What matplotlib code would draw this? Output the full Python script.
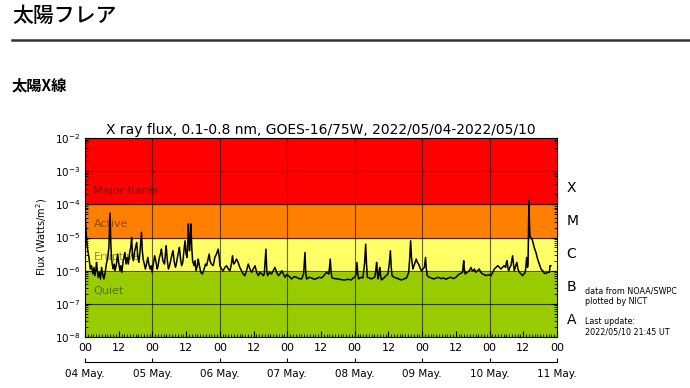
import matplotlib.pyplot as plt
from matplotlib.ticker import MultipleLocator, LogLocator, NullFormatter

# datos: (horas desde 2022/05/04 00UT, log10 del flujo W/m2)
dia1 = [(0.0, -4.28), (0.3, -4.7), (0.6, -5.1), (1.0, -5.4), (1.4, -5.6), (1.9, -5.95),
        (2.3, -5.85), (2.8, -6.1), (3.2, -5.9), (3.5, -6.15), (3.9, -5.95), (4.1, -5.75),
        (4.4, -6.0), (4.7, -6.2), (5.1, -6.05), (5.5, -6.25), (5.9, -5.9), (6.3, -6.1),
        (6.7, -6.25), (7.1, -6.1), (7.6, -5.8), (8.1, -5.6), (8.5, -5.3), (8.9, -4.26),
        (9.2, -5.2), (9.5, -5.7), (10.0, -5.95), (10.4, -5.8), (10.7, -6.0), (11.2, -5.8),
        (11.6, -5.5), (11.9, -5.7), (12.4, -6.0), (12.8, -5.85), (13.1, -6.05), (13.6, -5.7),
        (14.2, -5.45), (14.6, -5.8), (15.0, -5.6), (15.4, -5.8), (15.9, -5.45), (16.3, -5.3),
        (16.6, -5.0), (16.9, -5.55), (17.2, -5.7), (17.7, -5.4), (18.1, -5.25), (18.4, -5.15),
        (18.8, -5.6), (19.2, -5.75), (19.6, -5.4), (20.1, -4.84), (20.4, -5.4), (20.7, -5.65),
        (21.1, -5.8), (21.5, -5.95), (22.0, -5.75), (22.4, -5.6), (22.7, -5.8), (23.2, -5.95),
        (23.6, -5.85), (23.9, -6.05)]
dia2 = [(24.3, -5.8), (24.8, -5.55), (25.3, -5.75), (25.7, -5.95), (26.0, -5.85), (26.5, -5.6),
        (27.0, -5.45), (27.2, -5.35), (27.7, -5.7), (28.3, -5.8), (28.6, -5.5), (28.9, -5.25),
        (29.3, -5.7), (29.7, -5.95), (30.1, -5.85), (30.6, -5.65), (31.0, -5.5), (31.3, -5.4),
        (31.8, -5.75), (32.2, -5.9), (32.5, -5.8), (33.0, -5.55), (33.4, -5.4), (33.6, -5.3),
        (34.0, -5.65), (34.4, -5.85), (34.8, -5.75), (35.2, -5.4), (35.6, -5.1), (35.9, -5.45),
        (36.3, -5.6), (36.6, -5.1), (36.8, -4.59), (37.0, -5.1), (37.2, -5.4), (37.5, -5.0),
        (37.7, -4.59), (38.0, -5.3), (38.3, -5.7), (38.8, -5.85), (39.2, -5.7), (39.5, -6.0),
        (40.0, -5.85), (40.3, -5.65), (40.6, -5.8), (41.2, -6.05), (41.8, -6.1), (42.4, -5.95),
        (42.9, -5.8), (43.3, -5.85), (43.8, -5.65), (44.2, -5.5), (44.5, -5.7), (45.0, -5.8),
        (45.6, -5.85), (46.0, -5.7), (46.2, -5.6), (46.8, -5.5), (47.2, -5.4), (47.4, -5.35),
        (47.8, -5.6), (48.0, -5.85)]
dia3 = [(48.6, -5.95), (49.2, -6.0), (49.8, -5.9), (50.4, -5.85), (51.0, -5.95), (51.6, -6.0),
        (52.1, -5.8), (52.5, -5.55), (52.9, -5.8), (53.4, -5.75), (53.9, -5.65), (54.5, -5.75),
        (55.1, -5.9), (55.7, -6.0), (56.3, -6.1), (56.9, -6.15), (57.5, -6.0), (58.1, -5.8),
        (58.7, -5.95), (59.3, -6.05), (59.9, -5.95), (60.5, -5.85), (61.1, -6.05), (61.7, -6.15),
        (62.3, -6.05), (62.9, -6.1), (63.5, -6.15), (63.8, -6.1), (64.1, -5.7), (64.4, -5.35),
        (64.7, -6.0), (65.0, -6.15), (65.7, -6.05), (66.4, -6.1), (67.0, -6.0), (67.6, -5.9),
        (68.2, -6.05), (68.8, -6.15), (69.4, -6.1), (70.0, -6.0), (70.6, -6.1), (71.2, -6.2),
        (71.8, -6.12), (72.4, -6.15)]
dia4 = [(73.0, -6.2), (73.5, -6.25), (74.4, -6.18), (75.3, -6.2), (76.2, -6.24), (77.1, -6.25),
        (77.8, -6.1), (78.3, -5.45), (78.6, -6.1), (78.9, -6.25), (79.8, -6.2), (80.7, -6.22),
        (81.5, -6.26), (82.4, -6.24), (83.3, -6.2), (84.2, -6.22), (85.0, -6.15), (85.9, -6.05),
        (86.8, -6.1), (87.3, -5.65), (87.6, -6.05), (87.9, -6.22), (89.0, -6.24), (90.0, -6.25),
        (91.2, -6.27), (92.4, -6.28), (93.6, -6.26), (94.8, -6.28), (95.4, -6.22), (96.0, -6.2)]
dia5 = [(96.5, -6.1), (96.8, -5.75), (97.1, -6.1), (97.4, -6.25), (98.2, -6.2), (98.9, -6.22),
        (99.5, -5.8), (99.9, -5.2), (100.2, -5.8), (100.5, -6.2), (101.2, -6.22), (101.9, -6.25),
        (102.5, -6.22), (103.1, -6.2), (103.5, -6.0), (103.8, -5.75), (104.1, -6.1), (104.3, -6.25),
        (104.6, -6.1), (104.9, -5.9), (105.2, -6.15), (105.5, -6.28), (106.0, -6.25), (106.6, -6.2),
        (107.2, -6.15), (107.8, -6.1), (108.3, -5.8), (108.7, -5.4), (109.0, -5.9), (109.3, -6.15),
        (110.0, -6.2), (110.8, -6.22), (111.7, -6.25), (112.6, -6.28), (113.5, -6.25), (114.4, -6.22),
        (114.8, -6.15), (115.2, -6.05), (115.6, -5.6), (115.9, -5.1), (116.2, -5.6), (116.7, -5.95),
        (117.3, -5.8), (117.9, -5.65), (118.3, -5.75), (118.7, -5.8), (119.2, -5.9), (119.7, -6.0),
        (120.3, -5.95)]
dia6 = [(120.8, -5.9), (121.2, -5.6), (121.5, -5.95), (121.8, -6.15), (122.5, -6.2), (123.3, -6.22),
        (124.1, -6.25), (125.0, -6.22), (125.8, -6.2), (126.7, -6.24), (127.6, -6.22), (128.5, -6.26),
        (129.3, -6.22), (130.2, -6.2), (131.1, -6.24), (132.0, -6.2), (132.6, -6.15), (133.2, -6.1),
        (133.8, -6.08), (134.4, -6.05), (134.6, -5.85), (134.8, -5.7), (135.0, -5.95), (135.3, -6.1),
        (136.0, -6.05), (136.8, -6.0), (137.1, -5.95), (137.4, -5.9), (137.8, -6.0), (138.2, -6.0),
        (138.6, -5.95), (139.1, -6.05), (139.7, -6.0), (140.3, -5.95), (140.9, -6.05), (141.5, -6.1),
        (142.1, -6.12), (142.7, -6.15), (143.6, -6.12), (144.5, -6.15)]
dia7 = [(145.1, -6.05), (145.7, -5.95), (146.3, -5.9), (146.9, -5.85), (147.5, -5.9), (148.0, -5.95),
        (148.6, -5.9), (149.2, -5.85), (149.7, -5.9), (150.0, -5.75), (150.2, -5.7), (150.5, -5.9),
        (150.8, -6.0), (151.2, -5.9), (151.6, -5.85), (151.9, -5.7), (152.2, -5.55), (152.5, -5.8),
        (152.8, -6.0), (153.3, -5.85), (153.7, -5.75), (154.1, -5.95), (154.6, -6.05), (155.2, -6.1),
        (155.8, -6.15), (156.2, -6.1), (156.7, -6.05), (157.0, -5.8), (157.2, -5.6), (157.5, -5.9),
        (157.7, -5.8), (158.0, -3.88), (158.2, -4.6), (158.4, -4.99), (158.8, -5.0), (159.3, -5.1),
        (159.9, -5.3), (160.5, -5.45), (161.1, -5.65), (161.7, -5.8), (162.3, -5.95), (162.9, -6.0),
        (163.5, -6.08), (164.1, -6.08), (164.7, -6.05), (165.3, -6.05), (165.5, -5.85), (165.8, -5.85)]

datos = dia1 + dia2 + dia3 + dia4 + dia5 + dia6 + dia7
horas = [p[0] for p in datos]
flujo = [10 ** p[1] for p in datos]

dias = ["04 May.", "05 May.", "06 May.", "07 May.", "08 May.", "09 May.", "10 May.", "11 May."]
limites = [1e-8, 1e-6, 1e-5, 1e-4, 1e-2]
colores = ["#99cc00", "#ffff66", "#ff8000", "#ff0000"]
nombres = ["Quiet", "Eruptive", "Active", "Major flares"]
nombres_y = [10 ** -6.6, 10 ** -5.6, 10 ** -4.6, 10 ** -3.6]
clases = ["A", "B", "C", "M", "X"]
clases_y = [10 ** -7.5, 10 ** -6.5, 10 ** -5.5, 10 ** -4.5, 10 ** -3.5]

fig = plt.figure(figsize=(6.9, 3.88), dpi=100)

# encabezado de la pagina
cjk = ["Noto Sans CJK JP", "DejaVu Sans"]
fig.text(12 / 690, 1 - 16 / 388, "太陽フレア", family=cjk, fontsize=15, weight="medium",
         va="center", ha="left")
fig.add_artist(plt.Line2D([12 / 690, 1.0], [1 - 40 / 388, 1 - 40 / 388],
                          color="#333333", lw=1.8, transform=fig.transFigure))
fig.text(12 / 690, 1 - 85 / 388, "太陽X線", family=cjk, fontsize=11, weight="bold",
         va="center", ha="left")

ax = fig.add_axes([85 / 690, 51 / 388, 472 / 690, 199 / 388])
ax.set_yscale("log")
ax.set_ylim(1e-8, 1e-2)
ax.set_xlim(0, 168)

for i in range(len(colores)):
    ax.axhspan(limites[i], limites[i + 1], color=colores[i], zorder=0)
for i in range(len(nombres)):
    ax.text(3, nombres_y[i], nombres[i], fontsize=8, color="black", alpha=0.45,
            va="center", ha="left")

ax.grid(True, which="major", axis="y", color="black", lw=0.8, alpha=0.7)
for d in range(1, 7):
    ax.axvline(d * 24, color="black", lw=0.8, alpha=0.6)

ax.plot(horas, flujo, color="black", lw=1.1)

ax.set_xticks(range(0, 169, 12))
ax.set_xticklabels(["00" if t % 24 == 0 else "12" for t in range(0, 169, 12)])
ax.xaxis.set_minor_locator(MultipleLocator(1))
ax.yaxis.set_major_locator(LogLocator(base=10, numticks=10))
ax.yaxis.set_minor_locator(LogLocator(base=10, subs=range(2, 10), numticks=10))
ax.yaxis.set_minor_formatter(NullFormatter())
ax.tick_params(which="both", direction="in", top=True, right=True, labelsize=7.5)
ax.tick_params(which="major", length=4)
ax.tick_params(which="minor", length=2)
ax.tick_params(axis="x", labelsize=8, pad=4)
ax.set_ylabel("Flux (Watts/m$^2$)", fontsize=7, labelpad=4)
ax.set_title("X ray flux, 0.1-0.8 nm, GOES-16/75W, 2022/05/04-2022/05/10", fontsize=10, pad=3)

for i in range(len(clases)):
    ax.text(1.02, clases_y[i], clases[i], transform=ax.get_yaxis_transform(),
            fontsize=10, va="center", ha="left")

# eje de fechas
ax2 = ax.twiny()
ax2.set_xlim(0, 168)
ax2.xaxis.set_ticks_position("bottom")
ax2.spines["bottom"].set_position(("outward", 18))
for s in ["top", "left", "right"]:
    ax2.spines[s].set_visible(False)
ax2.set_xticks(range(0, 169, 24))
ax2.set_xticklabels(dias)
ax2.tick_params(axis="x", labelsize=7.5, length=3, direction="in", pad=5)

fig.text(585 / 690, 1 - 296 / 388, "data from NOAA/SWPC\nplotted by NICT", fontsize=5.8,
         va="center", ha="left", linespacing=1.2)
fig.text(585 / 690, 1 - 327 / 388, "Last update:\n2022/05/10 21:45 UT", fontsize=5.8,
         va="center", ha="left", linespacing=1.2)

fig.savefig("out.png", dpi=100)
